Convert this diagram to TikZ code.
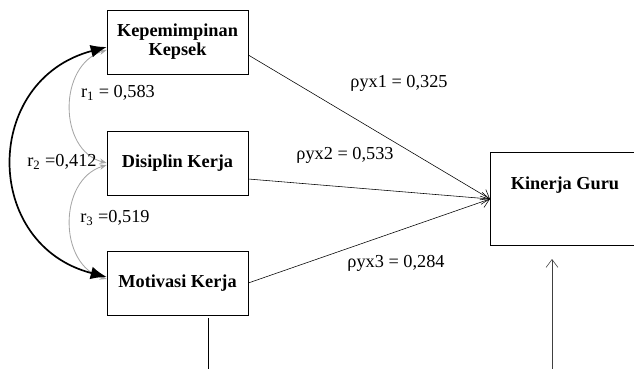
\documentclass[tikz,border=0pt]{standalone}
\usepackage{fontspec}
\setmainfont{Liberation Serif}
\usetikzlibrary{arrows.meta}
\usetikzlibrary{positioning}

\tikzset{
	varbox/.style={rectangle,draw,minimum width=3.525cm,minimum height=1.6cm,align=center,inner sep=2pt,font=\fontsize{13}{13.5}\selectfont\bfseries},
	coef/.style={inner sep=1pt,font=\fontsize{13}{15}\selectfont},
	path/.style={-{Straight Barb[length=2mm,width=3mm]}},
	corr/.style={gray!70,line width=0.6pt,{Stealth[length=1.8mm]}-{Stealth[length=1.8mm]}}
}

\begin{document}
\begin{tikzpicture}[x=0.025cm,y=-0.025cm]
	\useasboundingbox (0,0) rectangle (634,369);
	\node[varbox] (Kep) at (177.5,42) {Kepemimpinan\\Kepsek};
	\node[varbox] (Dis) at (177.5,163) {Disiplin Kerja};
	\node[varbox] (Mot) at (177.5,283) {Motivasi Kerja};
	\node[varbox,draw=none,anchor=west,minimum width=4cm,minimum height=2.3cm] (Guru) at (490,199) {};
	\draw (Guru.north east) -- (Guru.north west) -- (Guru.south west) -- (Guru.south east);
	\node[varbox,draw=none] (GuruText) at (565,185) {Kinerja Guru};
	\draw[path] ([yshift=-0.325cm]Kep.east) -- (Guru.west);
	\draw[path] ([yshift=-0.4cm]Dis.east) -- (Guru.west);
	\draw[path] (Mot.east) -- (Guru.west);
	\node[coef] (rho1) at (399,83) {ρyx1 = 0,325};
	\node[coef] (rho2) at (345,155) {ρyx2 = 0,533};
	\node[coef] (rho3) at (396,263) {ρyx3 = 0,284};
	% correlations
	\draw[corr] ([yshift=-0.2cm]Kep.west) .. controls (58,65) and (58,150) .. (Dis.west);
	\draw[corr] ([yshift=-0.05cm]Dis.west) .. controls (58,180) and (58,265) .. ([yshift=0.1cm]Mot.west);
	\draw[line width=1.2pt,{Latex[length=4mm,width=3.2mm]}-{Latex[length=4mm,width=3.2mm]}] ([yshift=-0.125cm]Kep.west) .. controls (-18,80) and (-18,245) .. ([yshift=0.15cm]Mot.west);
	\node[coef] (r1) at (118,93) {r\textsubscript{1} = 0,583};
	\node[coef] (r2) at (62,162) {r\textsubscript{2} =0,412};
	\node[coef] (r3) at (115,218) {r\textsubscript{3} =0,519};
	% residuals
	\coordinate (MotTop) at (208,318);
	\coordinate (MotFoot) at (208,369);
	\draw (MotTop) -- (MotFoot);
	\coordinate (GuruFoot) at (552,369);
	\draw[path,gray!50!black] (GuruFoot) -- (552,259);
\end{tikzpicture}
\end{document}
